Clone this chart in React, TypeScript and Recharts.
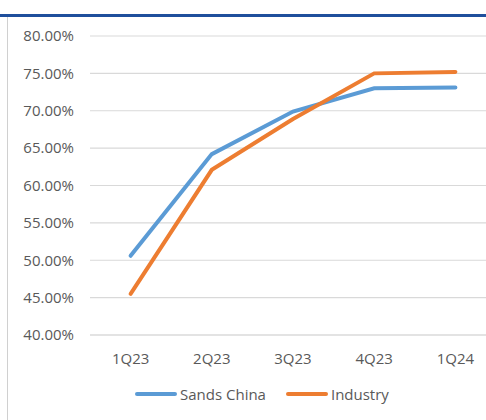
import React from 'react';
import { LineChart, Line, XAxis, YAxis, CartesianGrid } from 'recharts';

const quarters = ['1Q23', '2Q23', '3Q23', '4Q23', '1Q24'];
const sandsChina = [50.6, 64.2, 69.9, 73.0, 73.1];
const industry = [45.5, 62.1, 68.9, 75.0, 75.2];
const yTicks = [40, 45, 50, 55, 60, 65, 70, 75, 80];
const seriesNames = ['Sands China', 'Industry'];
const seriesColors = ['#5b9bd5', '#ed7d31'];

const data = quarters.map((q, i) => ({ idx: i, q, sands: sandsChina[i], industry: industry[i] }));

const FONT = '"Open Sans", "Noto Sans", sans-serif';
const TEXT = '#595959';

export default function App() {
  return (
    <div style={{ position: 'absolute', left: 0, top: 0, width: 486, height: 420, overflow: 'hidden', background: '#fff' }}>
      <div style={{ position: 'absolute', left: 0, top: 14, width: 486, height: 3, background: '#1f4f9c' }} />
      <div style={{ position: 'absolute', left: 7, top: 17, width: 1, height: 403, background: '#d0d0d0' }} />
      <div style={{ position: 'absolute', left: 0, top: 0 }}>
        <LineChart width={496} height={420} data={data} margin={{ top: 36, right: 0, bottom: 45, left: 0 }}>
          <CartesianGrid vertical={false} stroke="#d9d9d9" strokeWidth={1.2} />
          <XAxis
            dataKey="idx"
            type="number"
            domain={[-0.5, 4.5]}
            ticks={[0, 1, 2, 3, 4]}
            tickFormatter={(v: number) => quarters[v]}
            axisLine={{ stroke: '#d9d9d9', strokeWidth: 1.2 }}
            tickLine={false}
            tickSize={6}
            tickMargin={12}
            tick={{ fill: TEXT, fontSize: 15, fontFamily: FONT }}
            height={40}
          />
          <YAxis
            domain={[40, 80]}
            ticks={yTicks}
            tickFormatter={(v: number) => v.toFixed(2) + '%'}
            axisLine={false}
            tickLine={false}
            tickSize={6}
            tickMargin={10}
            width={90}
            tick={{ fill: TEXT, fontSize: 15, fontFamily: FONT }}
          />
          <Line type="linear" dataKey="sands" name={seriesNames[0]} stroke={seriesColors[0]} strokeWidth={4} dot={false} strokeLinecap="round" isAnimationActive={false} />
          <Line type="linear" dataKey="industry" name={seriesNames[1]} stroke={seriesColors[1]} strokeWidth={4} dot={false} strokeLinecap="round" isAnimationActive={false} />
        </LineChart>
      </div>
      <div style={{ position: 'absolute', left: 135, top: 384, display: 'flex', alignItems: 'center', fontFamily: FONT, fontSize: 15, color: TEXT, lineHeight: '20px' }}>
        {seriesNames.map((name, i) => (
          <div key={name} style={{ display: 'flex', alignItems: 'center', marginRight: 20 }}>
            <svg width={42} height={6} style={{ marginRight: 3 }}>
              <line x1={2} y1={3} x2={40} y2={3} stroke={seriesColors[i]} strokeWidth={4} strokeLinecap="round" />
            </svg>
            <span>{name}</span>
          </div>
        ))}
      </div>
    </div>
  );
}
